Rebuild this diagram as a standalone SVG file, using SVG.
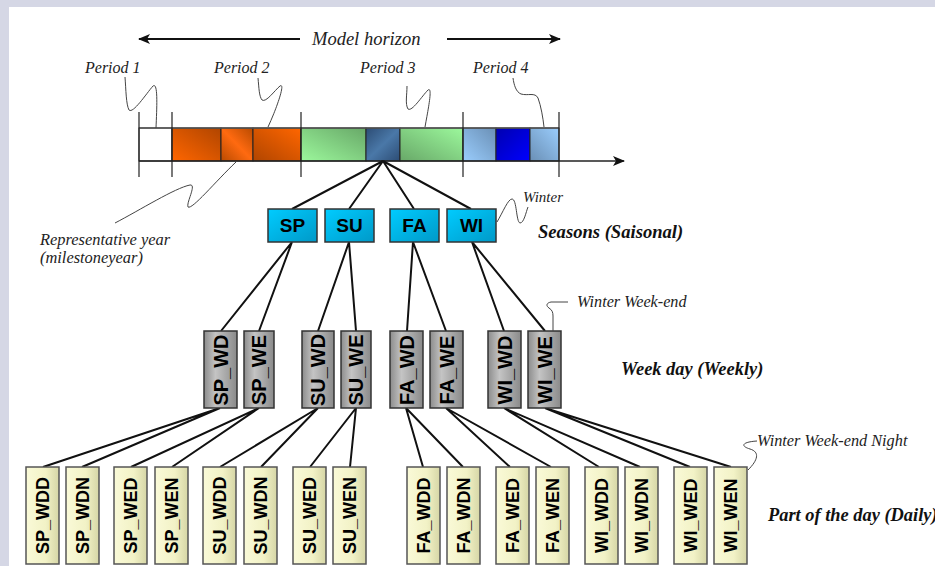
<svg xmlns="http://www.w3.org/2000/svg" width="935" height="566" viewBox="0 0 935 566">
<defs>
<linearGradient id="orA" x1="1" y1="0" x2="0" y2="1"><stop offset="0" stop-color="#b04500"/><stop offset="1" stop-color="#ff6600"/></linearGradient>
<linearGradient id="orB" x1="0" y1="1" x2="1" y2="0"><stop offset="0" stop-color="#b84a00"/><stop offset="0.5" stop-color="#ff6a10"/><stop offset="1" stop-color="#b84a00"/></linearGradient>
<linearGradient id="orC" x1="0" y1="1" x2="1" y2="0"><stop offset="0" stop-color="#b04500"/><stop offset="1" stop-color="#ff6600"/></linearGradient>
<linearGradient id="grA" x1="1" y1="0" x2="0" y2="1"><stop offset="0" stop-color="#68a868"/><stop offset="1" stop-color="#9cf89c"/></linearGradient>
<linearGradient id="grC" x1="0" y1="1" x2="1" y2="0"><stop offset="0" stop-color="#68a868"/><stop offset="1" stop-color="#9cf89c"/></linearGradient>
<linearGradient id="dkb" x1="0" y1="0" x2="1" y2="1"><stop offset="0" stop-color="#2c4c74"/><stop offset="0.5" stop-color="#4a78a8"/><stop offset="1" stop-color="#2c4c74"/></linearGradient>
<linearGradient id="lbA" x1="1" y1="0" x2="0" y2="1"><stop offset="0" stop-color="#6a8fb5"/><stop offset="1" stop-color="#9acdfd"/></linearGradient>
<linearGradient id="lbC" x1="0" y1="1" x2="1" y2="0"><stop offset="0" stop-color="#6a8fb5"/><stop offset="1" stop-color="#9acdfd"/></linearGradient>
<linearGradient id="blu" x1="0" y1="0" x2="1" y2="1"><stop offset="0" stop-color="#0000b0"/><stop offset="1" stop-color="#0000ff"/></linearGradient>
<linearGradient id="cyan" x1="0" y1="0" x2="1" y2="1"><stop offset="0" stop-color="#00ccff"/><stop offset="1" stop-color="#0099c8"/></linearGradient>
<linearGradient id="gray" x1="0" y1="0" x2="1" y2="0"><stop offset="0" stop-color="#8c8c8c"/><stop offset="0.35" stop-color="#c4c4c4"/><stop offset="1" stop-color="#8a8a8a"/></linearGradient>
<linearGradient id="yel" x1="0" y1="0" x2="1" y2="0"><stop offset="0" stop-color="#fafad8"/><stop offset="0.6" stop-color="#f2f2c6"/><stop offset="1" stop-color="#d6d6a6"/></linearGradient>
<marker id="ah" viewBox="0 0 12 10" refX="11" refY="5" markerWidth="12" markerHeight="10" markerUnits="userSpaceOnUse" orient="auto-start-reverse"><path d="M0,0 L12,5 L0,10 L3,5 z" fill="#111"/></marker>
</defs>
<style>
.cell{stroke:#222;stroke-width:1}
.tick{stroke:#222;stroke-width:1.2;fill:none}
.lead{stroke:#444;stroke-width:1;fill:none}
.con{stroke:#111;stroke-width:2;fill:none}
.sea{fill:url(#cyan);stroke:#333;stroke-width:1.5}
.wk{fill:url(#gray);stroke:#333;stroke-width:1.5}
.day{fill:url(#yel);stroke:#555;stroke-width:1.5}
.bt{font-family:"Liberation Sans",Arial,sans-serif;font-weight:bold;font-size:18px;fill:#000;text-anchor:middle;dominant-baseline:central}
.wt{font-size:20px}
.st{font-size:19px}
.lab{font-family:"Liberation Serif","Times New Roman",serif;font-style:italic;fill:#222}
.head{font-family:"Liberation Serif","Times New Roman",serif;font-style:italic;font-weight:bold;fill:#111}
</style>
<rect x="0" y="0" width="935" height="566" fill="#d5d7e5"/>
<rect x="9" y="7" width="926" height="559" fill="#ffffff"/>

<g id="horizon">
<line x1="300" y1="39" x2="139" y2="39" stroke="#111" stroke-width="2" marker-end="url(#ah)"/>
<line x1="447" y1="39" x2="560" y2="39" stroke="#111" stroke-width="2" marker-end="url(#ah)"/>
<text class="lab" x="312" y="45" font-size="18.5">Model horizon</text>
</g>

<g id="timeline">
<rect class="cell" x="139" y="128" width="33" height="33" fill="#fff"/>
<rect class="cell" x="172" y="128" width="49" height="33" fill="url(#orA)"/>
<rect class="cell" x="221" y="128" width="32" height="33" fill="url(#orB)"/>
<rect class="cell" x="253" y="128" width="48" height="33" fill="url(#orC)"/>
<rect class="cell" x="301" y="128" width="65" height="33" fill="url(#grA)"/>
<rect class="cell" x="366" y="128" width="34" height="33" fill="url(#dkb)"/>
<rect class="cell" x="400" y="128" width="63" height="33" fill="url(#grC)"/>
<rect class="cell" x="463" y="128" width="33" height="33" fill="url(#lbA)"/>
<rect class="cell" x="496" y="128" width="34" height="33" fill="url(#blu)"/>
<rect class="cell" x="530" y="128" width="29" height="33" fill="url(#lbC)"/>
<line x1="139" y1="128" x2="559" y2="128" stroke="#555" stroke-width="1.5"/>
<line x1="139" y1="161" x2="624" y2="161" stroke="#222" stroke-width="1.5" marker-end="url(#ah)"/>
<path class="tick" d="M139,112V177M172,112V177M301,112V177M463,112V177M559,112V177"/>
</g>

<g id="period-labels">
<text class="lab" x="85" y="73" font-size="16">Period 1</text>
<text class="lab" x="214" y="73" font-size="16">Period 2</text>
<text class="lab" x="360" y="73" font-size="16">Period 3</text>
<text class="lab" x="473" y="73" font-size="16">Period 4</text>
<path class="lead" d="M125,77 C126,90 126,104 129,110 C133,114 146,94 153,86 C158,82 157,105 156,128"/>
<path class="lead" d="M258,78 C259,88 259,96 262,100 C266,103 275,90 280,86 C286,82 276,110 268,127"/>
<path class="lead" d="M407,86 C407,95 405,104 408,109 C412,112 422,96 428,90 C433,86 428,110 425,127"/>
<path class="lead" d="M513,78 C514,85 516,92 521,94 C528,96 535,92 538,98 C541,106 543,118 544,127"/>
</g>

<g id="rep-year">
<path class="lead" d="M115,223 C140,210 175,188 190,185 C197,184 186,203 188,207 C192,210 215,182 236,162"/>
<text class="lab" x="40" y="245" font-size="16.4">Representative year</text>
<text class="lab" x="40" y="263" font-size="16.4">(milestoneyear)</text>
</g>

<g id="connectors">
<path class="con" d="M383,161L292,209M383,161L349,209M383,161L414,209M383,161L471,209"/>
<path class="con" d="M292,242L221,331M292,242L259,331M349,242L318,331M349,242L356,331M413,242L407,331M413,242L446,331M472,242L504,331M472,242L545,331"/>
<path class="con" d="M220,408L43,467M220,408L82,467M259,408L131,467M259,408L172,467M318,408L220,467M318,408L261,467M356,408L310,467M356,408L350,467M406,408L423,467M406,408L463,467M446,408L510,467M446,408L551,467M504,408L599,467M504,408L640,467M545,408L690,467M545,408L731,467"/>
</g>

<g id="SP"><rect class="sea" x="268" y="209" width="49" height="33"/><text class="bt st" x="292.5" y="225.5">SP</text></g>
<g id="SU"><rect class="sea" x="325" y="209" width="49" height="33"/><text class="bt st" x="349.5" y="225.5">SU</text></g>
<g id="FA"><rect class="sea" x="390" y="209" width="49" height="33"/><text class="bt st" x="414.5" y="225.5">FA</text></g>
<g id="WI"><rect class="sea" x="447" y="209" width="49" height="33"/><text class="bt st" x="471.5" y="225.5">WI</text></g>

<g id="season-notes">
<path class="lead" d="M497,222 C503,212 508,199 512,199 C517,199 516,222 520,223 C524,223 526,212 528,207"/>
<text class="lab" x="523" y="202" font-size="15">Winter</text>
<text class="head" x="538" y="238" font-size="18.6">Seasons (Saisonal)</text>
</g>

<g id="SP_WD"><rect class="wk" x="204" y="331" width="33" height="77"/><text class="bt wt" transform="translate(220.5,370) rotate(-90)">SP_WD</text></g>
<g id="SP_WE"><rect class="wk" x="244" y="331" width="30" height="77"/><text class="bt wt" transform="translate(259,370) rotate(-90)">SP_WE</text></g>
<g id="SU_WD"><rect class="wk" x="302" y="331" width="32" height="77"/><text class="bt wt" transform="translate(318,370) rotate(-90)">SU_WD</text></g>
<g id="SU_WE"><rect class="wk" x="341" y="331" width="30" height="77"/><text class="bt wt" transform="translate(356,370) rotate(-90)">SU_WE</text></g>
<g id="FA_WD"><rect class="wk" x="390" y="331" width="33" height="77"/><text class="bt wt" transform="translate(406.5,370) rotate(-90)">FA_WD</text></g>
<g id="FA_WE"><rect class="wk" x="430" y="331" width="33" height="77"/><text class="bt wt" transform="translate(446.5,370) rotate(-90)">FA_WE</text></g>
<g id="WI_WD"><rect class="wk" x="488" y="331" width="33" height="77"/><text class="bt wt" transform="translate(504.5,370) rotate(-90)">WI_WD</text></g>
<g id="WI_WE"><rect class="wk" x="528" y="331" width="33" height="77"/><text class="bt wt" transform="translate(544.5,370) rotate(-90)">WI_WE</text></g>

<g id="week-notes">
<path class="lead" d="M568,302 L551,302 C546,303 546,306 549,308 C552,310 553,312 553,316 L553,331"/>
<text class="lab" x="577" y="307" font-size="16.2">Winter Week-end</text>
<text class="head" x="621" y="375" font-size="18.4">Week day (Weekly)</text>
</g>

<g id="SP_WDD"><rect class="day" x="26" y="467" width="33" height="97"/><text class="bt" transform="translate(42.5,515.5) rotate(-90)">SP_WDD</text></g>
<g id="SP_WDN"><rect class="day" x="66" y="467" width="33" height="97"/><text class="bt" transform="translate(82.5,515.5) rotate(-90)">SP_WDN</text></g>
<g id="SP_WED"><rect class="day" x="114" y="467" width="33" height="97"/><text class="bt" transform="translate(130.5,515.5) rotate(-90)">SP_WED</text></g>
<g id="SP_WEN"><rect class="day" x="155" y="467" width="33" height="97"/><text class="bt" transform="translate(171.5,515.5) rotate(-90)">SP_WEN</text></g>
<g id="SU_WDD"><rect class="day" x="203" y="467" width="33" height="97"/><text class="bt" transform="translate(219.5,515.5) rotate(-90)">SU_WDD</text></g>
<g id="SU_WDN"><rect class="day" x="244" y="467" width="33" height="97"/><text class="bt" transform="translate(260.5,515.5) rotate(-90)">SU_WDN</text></g>
<g id="SU_WED"><rect class="day" x="293" y="467" width="33" height="97"/><text class="bt" transform="translate(309.5,515.5) rotate(-90)">SU_WED</text></g>
<g id="SU_WEN"><rect class="day" x="333" y="467" width="33" height="97"/><text class="bt" transform="translate(349.5,515.5) rotate(-90)">SU_WEN</text></g>
<g id="FA_WDD"><rect class="day" x="407" y="467" width="33" height="97"/><text class="bt" transform="translate(423.5,515.5) rotate(-90)">FA_WDD</text></g>
<g id="FA_WDN"><rect class="day" x="447" y="467" width="33" height="97"/><text class="bt" transform="translate(463.5,515.5) rotate(-90)">FA_WDN</text></g>
<g id="FA_WED"><rect class="day" x="496" y="467" width="33" height="97"/><text class="bt" transform="translate(512.5,515.5) rotate(-90)">FA_WED</text></g>
<g id="FA_WEN"><rect class="day" x="536" y="467" width="33" height="97"/><text class="bt" transform="translate(552.5,515.5) rotate(-90)">FA_WEN</text></g>
<g id="WI_WDD"><rect class="day" x="585" y="467" width="33" height="97"/><text class="bt" transform="translate(601.5,515.5) rotate(-90)">WI_WDD</text></g>
<g id="WI_WDN"><rect class="day" x="625" y="467" width="33" height="97"/><text class="bt" transform="translate(641.5,515.5) rotate(-90)">WI_WDN</text></g>
<g id="WI_WED"><rect class="day" x="674" y="467" width="33" height="97"/><text class="bt" transform="translate(690.5,515.5) rotate(-90)">WI_WED</text></g>
<g id="WI_WEN"><rect class="day" x="714" y="467" width="33" height="97"/><text class="bt" transform="translate(730.5,515.5) rotate(-90)">WI_WEN</text></g>

<g id="day-notes">
<path class="lead" d="M748,470 C758,460 760,452 750,449 C740,446 742,442 757,441"/>
<text class="lab" x="757" y="446" font-size="16.3">Winter Week-end Night</text>
<text class="head" x="768" y="521" font-size="18.4">Part of the day (Daily)</text>
</g>
</svg>
